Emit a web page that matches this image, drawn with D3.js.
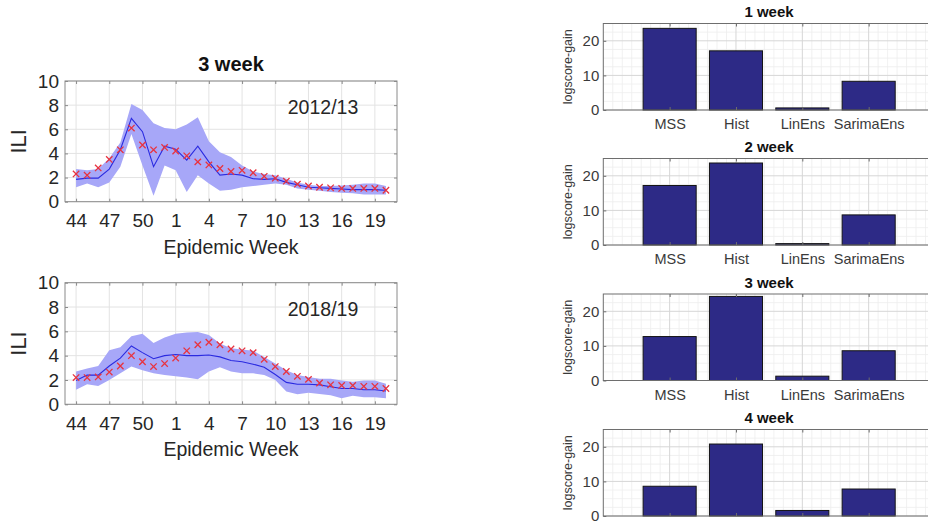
<!DOCTYPE html>
<html>
<head>
<meta charset="utf-8">
<script src="https://cdn.jsdelivr.net/npm/d3@7"></script>
<style>
  body { margin: 0; background: #fff; }
  svg { display: block; font-family: "Liberation Sans", Arial, sans-serif; }
</style>
</head>
<body>
<svg id="chart" width="928" height="525"></svg>
<script>
// ---------- data ----------
const weeks = [44,45,46,47,48,49,50,51,52,1,2,3,4,5,6,7,8,9,10,11,12,13,14,15,16,17,18,19,20];
const weekTicks = [44,47,50,1,4,7,10,13,16,19];
const iliTicks = [0,2,4,6,8,10];

const obs2012 = [2.3,2.2,2.8,3.5,4.3,6.1,4.7,4.3,4.5,4.2,3.8,3.3,3.05,2.75,2.5,2.6,2.4,2.1,1.95,1.7,1.45,1.3,1.2,1.15,1.1,1.1,1.1,1.1,0.95];
const mean2012 = [1.85,1.95,1.95,2.7,4.3,6.9,5.8,2.9,4.6,4.35,3.45,4.6,3.3,2.2,2.3,2.2,1.9,1.85,1.9,1.6,1.4,1.2,1.15,1.1,1.05,1.0,1.0,1.0,0.95];
const upper2012 = [2.7,2.6,2.7,3.6,4.9,8.1,7.6,6.5,6.1,6.0,6.4,7.0,5.0,4.1,3.7,3.0,2.5,2.3,2.2,1.9,1.6,1.4,1.3,1.3,1.35,1.4,1.5,1.5,1.3];
const lower2012 = [1.2,1.5,1.2,1.6,2.9,5.6,3.0,0.5,3.0,2.6,0.8,2.2,1.5,0.9,1.0,1.2,1.3,1.4,1.5,1.4,1.1,1.0,0.9,0.8,0.75,0.7,0.6,0.6,0.6];

const obs2018 = [2.2,2.2,2.25,2.65,3.15,4.0,3.5,3.1,3.35,3.8,4.4,4.9,5.1,4.9,4.55,4.4,4.25,3.7,3.1,2.7,2.3,2.05,1.75,1.6,1.55,1.55,1.48,1.48,1.3];
const mean2018 = [1.95,2.4,2.4,3.15,3.8,4.8,4.25,3.75,4.0,4.1,4.0,4.0,4.05,3.9,3.6,3.5,3.3,3.05,2.45,1.8,1.65,1.65,1.6,1.45,1.3,1.3,1.2,1.2,1.1];
const upper2018 = [2.7,2.95,3.15,4.45,4.7,5.6,5.8,5.05,5.5,5.8,5.9,5.95,5.7,5.0,4.6,4.5,4.4,3.9,3.35,2.8,2.4,2.25,2.1,2.1,1.95,1.85,1.95,1.95,1.7];
const lower2018 = [1.2,1.65,1.5,2.0,2.55,3.1,2.8,2.55,2.4,2.3,2.2,2.05,2.7,3.05,2.7,2.55,2.55,2.4,2.0,1.05,0.82,0.95,0.85,0.75,0.5,0.7,0.58,0.58,0.5];

const models = ["MSS","Hist","LinEns","SarimaEns"];
const horizons = ["1 week","2 week","3 week","4 week"];
const gain1 = [23.6,17.1,0.6,8.3];
const gain2 = [17.2,23.7,0.4,8.7];
const gain3 = [12.7,24.3,1.25,8.6];
const gain4 = [8.6,20.8,1.6,7.8];
const gainTicks = [0,10,20];

// ---------- drawing ----------
const svg = d3.select("#chart");
const axisColor = "#8a8a8a";
const textColor = "#262626";

function linePanel(cfg) {
  const g = svg.append("g");
  const x = d3.scaleLinear().domain([-1, 29]).range([65, 397]);
  const y = d3.scaleLinear().domain([0, 10]).range([cfg.bottom, cfg.top]);
  const idx = w => weeks.indexOf(w);

  // grid
  g.append("g").selectAll("line").data(weekTicks).join("line")
    .attr("x1", d => x(idx(d))).attr("x2", d => x(idx(d)))
    .attr("y1", y(0)).attr("y2", y(10))
    .attr("stroke", "#e3e3e3").attr("stroke-width", 1);
  g.append("g").selectAll("line").data(iliTicks).join("line")
    .attr("x1", x.range()[0]).attr("x2", x.range()[1])
    .attr("y1", d => y(d)).attr("y2", d => y(d))
    .attr("stroke", "#e3e3e3").attr("stroke-width", 1);

  // band
  const data = weeks.map((w, i) => ({i, lo: cfg.lower[i], hi: cfg.upper[i], m: cfg.mean[i], o: cfg.obs[i]}));
  g.append("path").datum(data)
    .attr("d", d3.area().x(d => x(d.i)).y0(d => y(d.lo)).y1(d => y(d.hi)))
    .attr("fill", "#a7a7f8").attr("stroke", "none");
  g.append("path").datum(data)
    .attr("d", d3.line().x(d => x(d.i)).y(d => y(d.m)))
    .attr("fill", "none").attr("stroke", "#2a2ae0").attr("stroke-width", 1.1);
  // observed x markers
  const s = 3.2;
  g.append("g").selectAll("path").data(data).join("path")
    .attr("d", d => `M${x(d.i)-s},${y(d.o)-s}L${x(d.i)+s},${y(d.o)+s}M${x(d.i)-s},${y(d.o)+s}L${x(d.i)+s},${y(d.o)-s}`)
    .attr("stroke", "#e8333f").attr("stroke-width", 1.3).attr("fill", "none");

  // box
  g.append("rect").attr("x", x.range()[0]).attr("y", cfg.top)
    .attr("width", x.range()[1] - x.range()[0]).attr("height", cfg.bottom - cfg.top)
    .attr("fill", "none").attr("stroke", axisColor).attr("stroke-width", 1);

  // axes with inner ticks
  const ax = d3.axisBottom(x).tickValues(weekTicks.map(idx)).tickFormat(i => weeks[i]).tickSize(-3).tickPadding(12);
  const gx = g.append("g").attr("transform", `translate(0,${cfg.bottom})`).call(ax);
  const axT = d3.axisTop(x).tickValues(weekTicks.map(idx)).tickFormat("").tickSize(-3);
  const gxt = g.append("g").attr("transform", `translate(0,${cfg.top})`).call(axT);
  const ay = d3.axisLeft(y).tickValues(iliTicks).tickSize(-3).tickPadding(6);
  const gy = g.append("g").attr("transform", `translate(${x.range()[0]},0)`).call(ay);
  const ayR = d3.axisRight(y).tickValues(iliTicks).tickFormat("").tickSize(-3);
  const gyr = g.append("g").attr("transform", `translate(${x.range()[1]},0)`).call(ayR);
  [gx, gxt, gy, gyr].forEach(a => {
    a.select(".domain").remove();
    a.selectAll(".tick line").attr("stroke", axisColor);
    a.selectAll("text").attr("fill", textColor).attr("font-size", 19)
      .attr("font-family", "Liberation Sans, Arial, sans-serif");
  });

  // labels
  g.append("text").attr("x", 231).attr("y", cfg.bottom + 52)
    .attr("text-anchor", "middle").attr("font-size", 19.5).attr("fill", textColor).text("Epidemic Week");
  g.append("text").attr("transform", `translate(26,${(cfg.top + cfg.bottom) / 2}) rotate(-90)`)
    .attr("text-anchor", "middle").attr("font-size", 22).attr("fill", textColor).text("ILI");
  g.append("text").attr("x", 323).attr("y", cfg.top + 33)
    .attr("text-anchor", "middle").attr("font-size", 19.5).attr("fill", textColor).text(cfg.season);
  if (cfg.title) {
    g.append("text").attr("x", 231).attr("y", cfg.top - 10)
      .attr("text-anchor", "middle").attr("font-size", 20).attr("font-weight", "bold")
      .attr("fill", "#111").text(cfg.title);
  }
}

linePanel({top: 81, bottom: 201.7, obs: obs2012, mean: mean2012, upper: upper2012, lower: lower2012, season: "2012/13", title: "3 week"});
linePanel({top: 282.7, bottom: 404.3, obs: obs2018, mean: mean2018, upper: upper2018, lower: lower2018, season: "2018/19"});

function barPanel(top, title, values, showLabels) {
  const g = svg.append("g");
  const bottom = top + 86.5;
  const x = d3.scaleLinear().domain([0, 5]).range([603.3, 935]);
  const y = d3.scaleLinear().domain([0, 25]).range([bottom, top]);

  // minor grid
  const minorX = d3.range(1, 35).map(k => k / 7).filter(v => Math.abs(v - Math.round(v)) > 1e-6);
  const minorY = d3.range(2.5, 25, 2.5).filter(v => v % 10 !== 0);
  g.append("g").selectAll("line").data(minorX).join("line")
    .attr("x1", d => x(d)).attr("x2", d => x(d)).attr("y1", top).attr("y2", bottom)
    .attr("stroke", "#ededed").attr("stroke-width", 0.8);
  g.append("g").selectAll("line").data(minorY).join("line")
    .attr("x1", x(0)).attr("x2", x(5)).attr("y1", d => y(d)).attr("y2", d => y(d))
    .attr("stroke", "#ededed").attr("stroke-width", 0.8);
  // major grid
  g.append("g").selectAll("line").data([1,2,3,4]).join("line")
    .attr("x1", d => x(d)).attr("x2", d => x(d)).attr("y1", top).attr("y2", bottom)
    .attr("stroke", "#d6d6d6").attr("stroke-width", 1);
  g.append("g").selectAll("line").data(gainTicks).join("line")
    .attr("x1", x(0)).attr("x2", x(5)).attr("y1", d => y(d)).attr("y2", d => y(d))
    .attr("stroke", "#d6d6d6").attr("stroke-width", 1);

  // bars
  g.append("g").selectAll("rect").data(values).join("rect")
    .attr("x", (d, i) => x(i + 1 - 0.4)).attr("width", x(0.8) - x(0))
    .attr("y", d => y(d)).attr("height", d => y(0) - y(d))
    .attr("fill", "#2d2a86").attr("stroke", "#141414").attr("stroke-width", 1);

  // box
  g.append("rect").attr("x", x(0)).attr("y", top).attr("width", x(5) - x(0)).attr("height", bottom - top)
    .attr("fill", "none").attr("stroke", "#6e6e6e").attr("stroke-width", 1);

  const ax = d3.axisBottom(x).tickValues([1,2,3,4]).tickFormat(i => showLabels ? models[i - 1] : "").tickSize(-3).tickPadding(9);
  const gx = g.append("g").attr("transform", `translate(0,${bottom})`).call(ax);
  const gxt = g.append("g").attr("transform", `translate(0,${top})`)
    .call(d3.axisTop(x).tickValues([1,2,3,4]).tickFormat("").tickSize(-3));
  const gy = g.append("g").attr("transform", `translate(${x(0)},0)`)
    .call(d3.axisLeft(y).tickValues(gainTicks).tickSize(-3).tickPadding(4));
  [gx, gxt, gy].forEach(a => {
    a.select(".domain").remove();
    a.selectAll(".tick line").attr("stroke", "#6e6e6e");
    a.selectAll("text").attr("fill", "#3a3a3a").attr("font-family", "Liberation Sans, Arial, sans-serif");
  });
  gx.selectAll("text").attr("font-size", 14.5);
  gy.selectAll("text").attr("font-size", 15);

  g.append("text").attr("x", 769).attr("y", top - 6.5)
    .attr("text-anchor", "middle").attr("font-size", 15).attr("font-weight", "bold")
    .attr("fill", "#111").text(title);
  g.append("text").attr("transform", `translate(572,${(top + bottom) / 2}) rotate(-90)`)
    .attr("text-anchor", "middle").attr("font-size", 12.5).attr("fill", "#3a3a3a").text("logscore-gain");
}

barPanel(23.5, horizons[0], gain1, true);
barPanel(158.5, horizons[1], gain2, true);
barPanel(294, horizons[2], gain3, true);
barPanel(429.5, horizons[3], gain4, false);
</script>
</body>
</html>
